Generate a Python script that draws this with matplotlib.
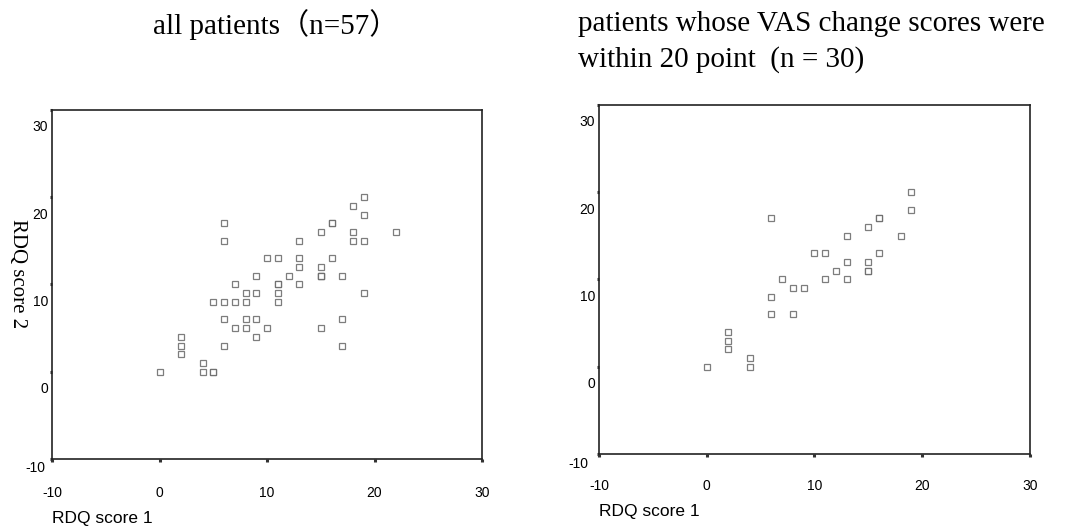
import matplotlib
matplotlib.use("Agg")
import matplotlib.pyplot as plt
from matplotlib.transforms import blended_transform_factory

# Data (RDQ score 1, RDQ score 2)
all_x = [0, 2, 2, 2, 4, 4, 5, 5, 5, 6, 6, 6, 6, 6, 7, 7, 7, 8, 8, 8, 8,
         9, 9, 9, 9, 10, 10, 11, 11, 11, 11, 11, 12, 13, 13, 13, 13,
         15, 15, 15, 15, 15, 15, 16, 16, 16, 17, 17, 17, 18, 18, 18,
         19, 19, 19, 19, 22]
all_y = [2, 6, 5, 4, 3, 2, 2, 2, 10, 19, 17, 10, 8, 5, 12, 10, 7, 11, 10, 8, 7,
         13, 11, 8, 6, 15, 7, 15, 12, 12, 11, 10, 13, 17, 15, 14, 12,
         18, 14, 13, 13, 13, 7, 19, 19, 15, 13, 8, 5, 21, 18, 17,
         22, 20, 17, 11, 18]

sub_x = [0, 2, 2, 2, 4, 4, 6, 6, 6, 7, 8, 8, 9, 10, 11, 11, 12, 13, 13, 13,
         15, 15, 15, 15, 16, 16, 16, 18, 19, 19]
sub_y = [2, 6, 5, 4, 3, 2, 19, 10, 8, 12, 11, 8, 11, 15, 15, 12, 13, 17, 14, 12,
         18, 14, 13, 13, 19, 19, 15, 17, 22, 20]

tick_labels = [-10, 0, 10, 20, 30]
ytick_marks = [-8, 2, 12, 22, 32]

fig = plt.figure(figsize=(10.66, 5.26), dpi=100)
ax1 = fig.add_axes([0.0488, 0.1274, 0.4034, 0.6635])
ax2 = fig.add_axes([0.5619, 0.1369, 0.4043, 0.6635])


def draw(ax, xs, ys, xpad, low_label):
    ax.plot(xs, ys, linestyle="none", marker="s", markersize=3.8,
            markerfacecolor="white", markeredgecolor="#666666",
            markeredgewidth=0.9, alpha=0.85)
    ax.set_xlim(-10, 30)
    ax.set_ylim(-8, 32)
    ax.set_xticks(tick_labels)
    ax.set_xticklabels([str(v) for v in tick_labels], fontsize=10,
                       family="Liberation Sans")
    ax.set_yticks(ytick_marks)
    ax.set_yticklabels([])
    ax.tick_params(axis="both", direction="out", length=1.8, width=2.2,
                   color="#333333")
    ax.tick_params(axis="x", pad=xpad)
    for s in ax.spines.values():
        s.set_linewidth(1.2)
        s.set_color("#222222")
    # y labels sit a little below their tick marks in the original
    tr = blended_transform_factory(ax.transAxes, ax.transData)
    for v in tick_labels[1:]:
        ax.text(-0.009, v, str(v), transform=tr, ha="right", va="center",
                fontsize=10, family="Liberation Sans", clip_on=False)
    ax.text(low_label[0], low_label[1], "-10", transform=tr, ha="right",
            va="center", fontsize=10, family="Liberation Sans", clip_on=False)


draw(ax1, all_x, all_y, 17.5, (-0.016, -9.05))
draw(ax2, sub_x, sub_y, 16.0, (-0.025, -9.1))

fig.text(0.259, 0.954, "all patients（n=57）", ha="center", va="center",
         fontsize=21, family=["Liberation Serif", "Noto Sans CJK SC"])
fig.text(0.542, 1 - 24 / 526, "patients whose VAS change scores were",
         ha="left", va="center", fontsize=21, family="Liberation Serif")
fig.text(0.542, 1 - 60 / 526, "within 20 point  (n = 30)",
         ha="left", va="center", fontsize=21, family="Liberation Serif")

fig.text(0.0488, 0.0152, "RDQ score 1", ha="left", va="center",
         fontsize=12.5, family="Liberation Sans")
fig.text(0.5619, 0.0285, "RDQ score 1", ha="left", va="center",
         fontsize=12.5, family="Liberation Sans")
fig.text(0.016, 0.479, "RDQ score 2", ha="center", va="center",
         rotation=270, fontsize=15, family="Liberation Serif")

fig.savefig("out.png", dpi=100)
